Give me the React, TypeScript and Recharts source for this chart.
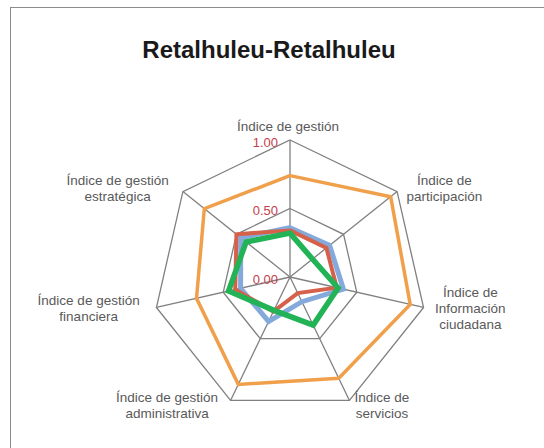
import { RadarChart, Radar, PolarGrid, PolarAngleAxis, PolarRadiusAxis } from 'recharts'

const categories = [
  'Índice de gestión',
  'Índice de participación',
  'Índice de Información ciudadana',
  'Índice de servicios',
  'Índice de gestión administrativa',
  'Índice de gestión financiera',
  'Índice de gestión estratégica',
]

const categoryLines = [
  ['Índice de gestión'],
  ['Índice de', 'participación'],
  ['Índice de', 'Información', 'ciudadana'],
  ['Índice de', 'servicios'],
  ['Índice de gestión', 'administrativa'],
  ['Índice de gestión', 'financiera'],
  ['Índice de gestión', 'estratégica'],
]

const orangeValues = [0.74, 0.94, 0.9, 0.82, 0.87, 0.7, 0.8]
const blueValues = [0.36, 0.37, 0.4, 0.2, 0.36, 0.37, 0.46]
const redValues = [0.34, 0.34, 0.35, 0.13, 0.28, 0.41, 0.5]
const greenValues = [0.32, 0.21, 0.36, 0.39, 0.27, 0.46, 0.41]

const radiusTicks = [0, 0.5, 1]

const data = categories.map((name, i) => ({
  name,
  orange: orangeValues[i],
  blue: blueValues[i],
  red: redValues[i],
  green: greenValues[i],
}))

// where each label block sits relative to the axis tick point
const labelOffsets = [
  [-2, -6],
  [41, -6],
  [39, -17],
  [29, -10],
  [-60, -10],
  [-60, -9],
  [-59, -6],
]

const FONT = '"Liberation Sans", Arial, Helvetica, sans-serif'

function AngleTick(props: any) {
  const { x, y, payload } = props
  const i = categories.indexOf(payload.value)
  const lines = categoryLines[i] || [payload.value]
  const [dx, dy] = labelOffsets[i] || [0, 0]
  return (
    <g>
      {lines.map((line, k) => (
        <text
          key={k}
          x={x + dx}
          y={y + dy + k * 16}
          textAnchor='middle'
          dominantBaseline='central'
          fontSize={13.5}
          fontFamily={FONT}
          fill='#595959'
        >
          {line}
        </text>
      ))}
    </g>
  )
}

function RadiusTick(props: any) {
  const { x, y, payload } = props
  return (
    <text
      x={x - 12}
      y={y + 2}
      textAnchor='end'
      dominantBaseline='central'
      fontSize={13}
      fontFamily={FONT}
      fill='#c4404c'
    >
      {Number(payload.value).toFixed(2)}
    </text>
  )
}

export default function App() {
  return (
    <div style={{ position: 'absolute', left: 0, top: 0, width: 544, height: 448, overflow: 'hidden', background: '#fff' }}>
      <div
        style={{
          position: 'absolute',
          left: 10,
          top: 7,
          width: 600,
          height: 500,
          border: '1px solid #8c8c8c',
        }}
      />
      <div
        style={{
          position: 'absolute',
          left: 0,
          width: 538,
          top: 36,
          textAlign: 'center',
          fontFamily: FONT,
          fontWeight: 'bold',
          fontSize: 24,
          color: '#1a1a1a',
        }}
      >
        Retalhuleu-Retalhuleu
      </div>
      <div style={{ position: 'absolute', left: 0, top: 0 }}>
        <RadarChart width={544} height={448} data={data} cx={290} cy={277} outerRadius={137}>
          <PolarGrid gridType='polygon' stroke='#808080' strokeWidth={1.3} />
          <PolarAngleAxis dataKey='name' axisLine={false} tickLine={false} tick={AngleTick} />
          <PolarRadiusAxis
            angle={90}
            domain={[0, 1]}
            ticks={radiusTicks as any}
            tickCount={3}
            axisLine={false}
            tickLine={false}
            tick={RadiusTick}
          />
          <Radar dataKey='orange' stroke='#f0a04b' strokeWidth={3.5} fill='none' fillOpacity={0} dot={false} isAnimationActive={false} />
          <Radar dataKey='blue' stroke='#84a9db' strokeWidth={5} fill='none' fillOpacity={0} dot={false} isAnimationActive={false} />
          <Radar dataKey='red' stroke='#d6614b' strokeWidth={4} fill='none' fillOpacity={0} dot={false} isAnimationActive={false} />
          <Radar dataKey='green' stroke='#22b357' strokeWidth={5.5} fill='none' fillOpacity={0} dot={false} isAnimationActive={false} />
        </RadarChart>
      </div>
    </div>
  )
}
